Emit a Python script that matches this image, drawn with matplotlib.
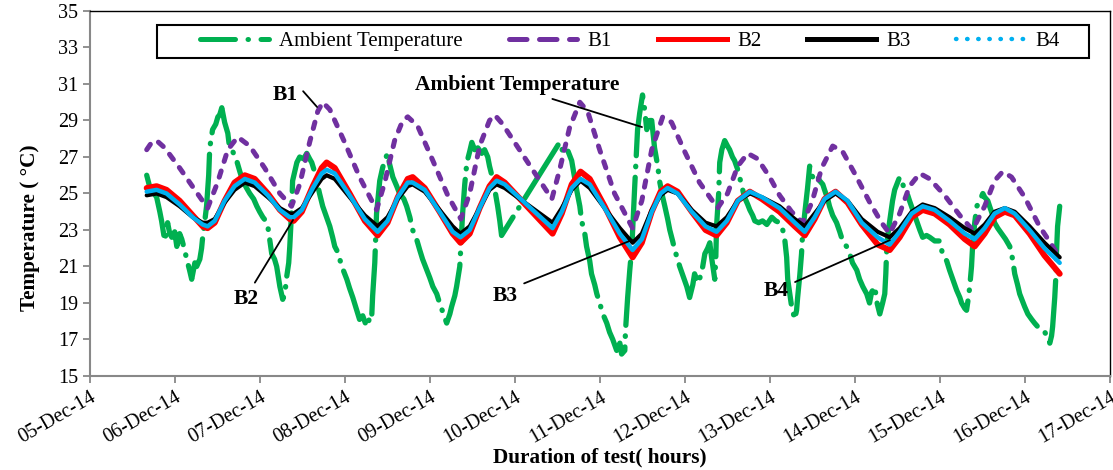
import matplotlib
matplotlib.use('Agg')
import matplotlib.pyplot as plt
import matplotlib.dates as mdates
from matplotlib.lines import Line2D
from matplotlib.patches import Rectangle
import pandas as pd

# test started 05-Dec-14 16:00, times are elapsed hours
start = pd.Timestamp('2014-12-05 16:00')

amb_h = [0.0, 0.8, 1.7, 2.8, 3.7, 4.2, 5.1, 5.9, 6.5, 7.1, 7.9, 8.5, 9.3, 9.9, 10.7, 11.3, 12.1, 12.7,
         13.6, 14.1, 15.0, 15.5, 15.8, 16.4, 16.9, 17.5, 17.8, 18.6, 19.5, 20.1, 20.6, 21.2, 22.0, 22.9,
         23.4, 24.3, 25.4, 26.3, 27.1, 28.2, 29.1, 30.2, 31.1, 31.9, 32.8, 33.6, 34.2, 34.7, 35.3, 36.1,
         36.7, 37.6, 38.4, 39.0, 39.5, 40.1, 40.4, 40.9, 41.2, 41.8, 42.4, 43.2, 44.3, 45.2, 46.0, 46.6,
         47.4, 48.0, 48.8, 49.7, 50.8, 51.7, 52.5, 53.1, 53.9, 54.5, 55.3, 56.5, 57.3, 58.2, 59.0, 60.1,
         61.0, 62.1, 63.0, 63.5, 63.8, 64.4, 64.9, 65.8, 66.6, 67.2, 68.0, 68.6, 69.5, 70.6, 71.4, 72.6,
         73.4, 74.3, 75.1, 76.2, 77.1, 77.9, 79.1, 79.9, 80.8, 81.9, 82.7, 83.6, 84.7, 85.6, 86.1, 87.0,
         87.5, 88.4, 88.9, 89.2, 89.8, 90.4, 91.2, 91.8, 92.6, 93.5, 94.6, 95.4, 96.3, 96.8, 97.7, 98.3,
         99.1, 99.7, 100.2, 116.6, 117.5, 118.6, 119.4, 120.0, 120.8, 121.4, 122.3, 122.8, 123.7, 124.2,
         125.1, 125.6, 126.5, 127.1, 127.9, 128.8, 129.9, 130.7, 131.6, 132.7, 133.6, 134.1, 135.0, 135.2,
         135.8, 136.4, 137.0, 137.8, 138.6, 139.2, 140.0, 140.6, 141.2, 142.0, 142.6, 143.4, 144.3, 144.8,
         145.7, 146.3, 147.1, 147.7, 148.5, 149.1, 149.9, 150.5, 151.6, 152.5, 153.3, 154.2, 154.7, 155.6,
         156.1, 157.0, 157.6, 158.4, 159.0, 159.5, 160.4, 160.7, 160.9, 161.5, 161.8, 162.4, 163.2, 164.0,
         164.6, 165.4, 166.0, 166.9, 167.4, 168.3, 168.8, 169.7, 170.3, 171.1, 171.7, 172.8, 173.9, 175.1,
         176.5, 177.6, 178.7, 179.6, 180.1, 180.7, 181.0, 181.6, 182.1, 183.0, 183.5, 183.8, 184.4, 184.9,
         185.2, 185.8, 186.6, 187.2, 187.8, 188.6, 189.5, 190.0, 190.9, 191.4, 192.3, 192.8, 193.7, 194.8,
         195.7, 196.5, 197.6, 198.5, 199.3, 200.5, 201.3, 202.2, 203.3, 204.1, 204.7, 205.6, 206.1, 207.0,
         207.8, 208.4, 208.7, 208.9, 209.2, 209.8, 210.6, 211.2, 212.0, 212.6, 213.5, 214.0, 214.9, 215.4,
         216.3, 217.4, 218.3, 219.1, 220.2, 221.1, 222.5, 223.9, 224.7, 225.9, 226.7, 227.6, 228.7, 229.6,
         230.1, 231.0, 231.5, 232.1, 232.4, 232.9, 233.2, 233.8, 234.4, 235.2, 236.1, 236.6, 237.5, 238.0,
         238.9, 239.4, 240.3, 241.4, 242.5, 243.7, 244.5, 245.1, 245.9, 246.5, 247.3, 247.9, 248.8, 249.9,
         250.7, 251.6, 252.7, 253.6, 254.4, 255.0, 255.5, 255.8, 256.1, 256.4, 256.7, 256.9, 257.2, 257.8]
amb_t = [26.0, 25.4, 25.1, 24.8, 24.0, 23.5, 22.4, 23.4, 22.8, 22.6, 22.9, 22.1, 22.8, 22.5, 21.9, 21.4, 20.8, 20.3,
         21.2, 21.0, 21.4, 22.0, 22.6, 23.5, 24.3, 26.0, 27.5, 28.5, 28.8, 29.2, 29.3, 29.7, 28.9, 28.3,
         27.5, 27.3, 26.8, 26.2, 25.7, 25.3, 25.0, 24.7, 24.3, 24.0, 23.7, 23.5, 23.2, 22.5, 21.7, 21.4,
         21.0, 19.9, 19.2, 19.5, 20.4, 21.2, 22.1, 24.0, 25.7, 26.2, 26.7, 27.0, 26.9, 27.2, 26.9, 26.7,
         26.2, 25.7, 25.0, 24.3, 23.7, 23.2, 22.6, 22.1, 21.8, 21.4, 20.9, 20.3, 19.8, 19.3, 18.8, 18.1,
         18.3, 17.7, 18.2, 18.1, 19.4, 21.2, 23.9, 25.7, 26.4, 26.8, 27.2, 26.6, 25.9, 25.4, 25.0, 24.7,
         24.3, 23.7, 23.0, 22.5, 21.9, 21.4, 20.8, 20.4, 19.9, 19.5, 19.0, 18.5, 17.9, 18.4, 18.8, 19.4,
         19.9, 21.0, 22.8, 23.9, 25.5, 26.7, 27.3, 27.8, 27.4, 27.5, 27.2, 27.4, 27.0, 26.5, 25.8, 25.2,
         24.3, 23.5, 22.7, 27.8, 27.3, 27.5, 27.1, 26.8, 25.9, 25.2, 24.3, 23.5, 22.8, 22.1,
         21.3, 20.6, 20.0, 19.5, 19.0, 18.4, 17.9, 17.4, 17.0, 16.4, 16.8, 16.2, 16.4, 17.5,
         19.3, 20.8, 22.1, 25.4, 28.5, 29.4, 30.4, 29.6, 28.5, 29.0, 29.0, 27.5, 26.5, 25.7,
         24.8, 24.3, 23.6, 23.0, 22.4, 21.9, 21.4, 21.0, 20.4, 19.9, 19.3, 20.0, 20.6, 20.1,
         20.3, 21.0, 21.7, 22.0, 22.3, 21.5, 20.3, 21.5, 23.2, 25.0, 26.7, 27.4, 27.9, 27.6,
         27.4, 27.0, 26.8, 26.3, 25.9, 25.2, 24.8, 24.4, 24.1, 23.8, 23.5, 23.4, 23.5, 23.3,
         23.7, 23.5, 23.4, 23.0, 22.6, 21.5, 20.3, 19.5, 18.8, 18.1, 18.6, 19.3, 20.5, 21.7,
         22.8, 23.9, 25.3, 26.5, 26.0, 25.7, 25.9, 25.7, 25.5, 25.2, 24.7, 24.3, 23.8, 23.4,
         22.9, 22.4, 22.1, 21.7, 21.2, 20.8, 20.3, 19.9, 19.5, 19.0, 19.6, 19.9, 19.1, 18.4,
         19.0, 19.5, 20.6, 21.7, 22.6, 23.5, 24.6, 25.2, 25.6, 25.9, 25.5, 25.2, 24.9, 24.6,
         24.1, 23.5, 23.0, 22.6, 22.7, 22.6, 22.4, 22.4, 21.7, 21.3, 20.8, 20.3, 19.7, 19.3,
         19.0, 18.7, 18.6, 19.4, 19.9, 21.0, 22.1, 23.4, 24.3, 24.6, 25.0, 24.8, 24.6, 24.3,
         23.8, 23.4, 23.1, 22.8, 22.5, 22.1, 21.4, 20.6, 20.0, 19.5, 19.1, 18.8, 18.4, 18.1,
         17.9, 17.7, 17.6, 17.4, 17.1, 16.8, 17.2, 17.7, 18.5, 19.3, 20.4, 21.8, 23.2, 24.3]

b1_h = [0.0, 1.4, 2.8, 5.1, 9.3, 13.6, 17.2, 20.0, 22.9, 25.7, 29.1, 33.3, 37.6, 40.9, 43.2, 46.0,
        48.3, 49.7, 51.7, 55.9, 60.1, 64.9, 67.2, 70.0, 72.3, 73.7, 76.5, 80.8, 85.0, 88.7, 91.2, 94.0,
        96.8, 98.3, 100.5, 114.4, 116.6, 119.4, 122.3, 124.5, 127.9, 132.1, 137.2, 139.8, 142.6, 145.7,
        148.2, 151.9, 156.1, 161.2, 164.0, 166.9, 169.7, 172.5, 175.9, 178.7, 182.1, 185.2, 187.8, 190.6,
        193.7, 196.5, 199.9, 204.2, 207.5, 209.8, 212.6, 215.4, 218.3, 221.1, 225.3, 229.6, 233.2, 236.6,
        239.4, 241.7, 244.2, 247.9, 252.1, 255.5, 257.8]
b1_t = [27.4, 27.8, 27.9, 27.5, 26.4, 25.2, 24.2, 25.6, 27.4, 28.1, 27.6, 26.4, 25.0, 24.3, 25.5, 27.8,
        29.5, 30.0, 29.6, 27.8, 25.9, 24.1, 25.6, 27.9, 29.0, 29.2, 28.7, 26.8, 24.9, 23.6, 25.0, 27.6,
        29.0, 29.3, 28.8, 24.7, 26.3, 28.6, 30.0, 29.5, 27.4, 25.0, 23.1, 24.6, 27.4, 29.2,
        28.9, 27.3, 25.6, 24.2, 25.0, 26.5, 27.2, 26.9, 25.9, 24.9, 24.0, 23.4, 24.5, 26.4,
        27.6, 27.3, 26.1, 24.5, 23.4, 22.8, 23.9, 25.4, 26.1, 25.8, 24.9, 23.8, 23.0, 24.3,
        25.7, 26.2, 25.9, 24.8, 23.2, 22.2, 21.5]

b_h = [0.0, 2.8, 5.6, 9.3, 13.0, 15.8, 17.2, 19.2, 22.0, 24.8, 27.7, 30.5, 34.2, 37.6, 40.4, 41.5,
       43.8, 46.9, 49.4, 50.8, 53.1, 57.3, 61.6, 65.2, 68.0, 70.9, 73.7, 75.1, 78.5, 82.7, 86.4, 88.6,
       91.2, 94.0, 96.8, 98.8, 101.1, 114.6, 117.2, 120.0, 122.5, 125.1, 129.3, 133.6, 137.2, 139.8,
       142.6, 145.1, 147.1, 149.9, 153.9, 157.8, 160.9, 163.8, 166.9, 170.3, 173.7, 178.7, 183.0, 185.8,
       188.6, 191.4, 194.5, 197.9, 201.9, 206.4, 209.8, 212.6, 216.0, 219.1, 222.5, 226.7, 231.0, 233.8,
       236.6, 239.4, 242.3, 245.1, 249.3, 253.5, 257.8]
b2_t = [25.3, 25.4, 25.2, 24.6, 23.8, 23.2, 23.1, 23.4, 24.6, 25.6, 26.0, 25.8, 25.0, 24.1, 23.6, 23.5,
        24.0, 25.4, 26.4, 26.7, 26.4, 25.0, 23.5, 22.7, 23.4, 24.8, 25.8, 25.9, 25.3, 24.0, 22.8, 22.3,
        22.8, 24.2, 25.4, 25.9, 25.6, 22.8, 23.9, 25.5, 26.2, 25.8, 24.3, 22.6, 21.5, 22.3,
        24.0, 25.1, 25.4, 25.1, 24.0, 23.0, 22.7, 23.4, 24.6, 25.1, 24.7, 24.0, 23.2, 22.7,
        23.6, 24.7, 25.1, 24.5, 23.3, 22.2, 21.9, 22.6, 23.7, 24.1, 23.9, 23.3, 22.5, 22.1,
        22.8, 23.7, 24.0, 23.8, 22.8, 21.6, 20.6]
b3_t = [24.9, 25.0, 24.8, 24.3, 23.7, 23.4, 23.4, 23.6, 24.5, 25.2, 25.6, 25.4, 24.8, 24.2, 23.9, 23.9,
        24.2, 25.1, 25.8, 26.0, 25.8, 24.8, 23.8, 23.2, 23.7, 24.7, 25.4, 25.5, 25.1, 24.1, 23.2, 22.8,
        23.2, 24.2, 25.2, 25.5, 25.3, 23.4, 24.2, 25.2, 25.7, 25.3, 24.2, 23.1, 22.3, 22.8,
        24.1, 24.9, 25.2, 25.0, 24.1, 23.4, 23.2, 23.7, 24.6, 25.0, 24.8, 24.3, 23.6, 23.2,
        23.9, 24.6, 25.0, 24.6, 23.6, 22.9, 22.6, 23.1, 24.0, 24.4, 24.2, 23.7, 23.1, 22.8,
        23.3, 24.0, 24.2, 24.0, 23.2, 22.3, 21.5]
b4_t = [25.1, 25.2, 25.0, 24.4, 23.7, 23.3, 23.2, 23.5, 24.6, 25.4, 25.8, 25.6, 24.9, 24.1, 23.7, 23.7,
        24.1, 25.3, 26.1, 26.3, 26.1, 24.9, 23.6, 22.9, 23.5, 24.8, 25.6, 25.6, 25.2, 24.0, 22.9, 22.6,
        23.0, 24.2, 25.3, 25.7, 25.5, 23.1, 24.0, 25.3, 25.8, 25.5, 24.2, 22.8, 21.9, 22.5,
        24.0, 25.0, 25.3, 25.0, 24.0, 23.2, 22.9, 23.5, 24.6, 25.1, 24.8, 24.2, 23.4, 22.9,
        23.7, 24.7, 25.1, 24.6, 23.4, 22.6, 22.2, 22.9, 23.9, 24.3, 24.1, 23.5, 22.8, 22.5,
        23.1, 23.9, 24.2, 23.9, 23.0, 22.0, 21.2]

day_ticks = pd.date_range('2014-12-05', '2014-12-17', freq='D')


def when(hours):
    return start + pd.to_timedelta(hours, unit='h')


def day(d):
    return mdates.date2num(pd.Timestamp('2014-12-05')) + d


plt.rcParams['font.family'] = ['Liberation Serif', 'DejaVu Serif']

fig = plt.figure(figsize=(11.13, 4.70), dpi=100)
ax = fig.add_axes([0.0809, 0.2, 0.9164, 0.7766])

ax.plot(when(amb_h), amb_t, color='#00B050', lw=3.8, linestyle=(0, (12, 2, 0.1, 2)),
        dash_capstyle='round')
ax.plot(when(b1_h), b1_t, color='#7030A0', lw=3.6, linestyle=(0, (1.3, 2.0)), dash_capstyle='round')
ax.plot(when(b_h), b2_t, color='#FF0000', lw=4.3, solid_capstyle='round')
ax.plot(when(b_h), b3_t, color='#000000', lw=3.0, solid_capstyle='round')
ax.plot(when(b_h), b4_t, color='#00B0F0', lw=3.2, solid_capstyle='round')

ax.set_xlim(day_ticks[0], day_ticks[-1])
ax.set_ylim(15, 35)
ax.set_yticks(range(15, 36, 2))
ax.set_xticks(day_ticks)
ax.xaxis.set_major_formatter(mdates.DateFormatter('%d-%b-%y'))
ax.tick_params(axis='both', labelsize=14.5, color='#888888', length=5, width=1.3)
for lab in ax.get_xticklabels():
    lab.set_rotation(30)
    lab.set_ha('right')
    lab.set_rotation_mode('anchor')

for s in ['left', 'bottom']:
    ax.spines[s].set_color('#888888')
    ax.spines[s].set_linewidth(1.5)
for s in ['top', 'right']:
    ax.spines[s].set_color('black')
    ax.spines[s].set_linewidth(1.0)

ax.set_ylabel('Temperature ( °C)', fontsize=15.3, fontweight='bold')
ax.yaxis.set_label_coords(-0.049, 0.405)
ax.set_xlabel('Duration of test( hours)', fontsize=15.3, fontweight='bold')
ax.xaxis.set_label_coords(0.5, -0.195)

# legend box
ax.add_patch(Rectangle((0.0657, 0.871), 0.914, 0.0904, transform=ax.transAxes,
                       facecolor='white', edgecolor='black', lw=1.5, zorder=4))
handles = [
    Line2D([], [], color='#00B050', lw=3.6, linestyle=(0, (7, 2.5, 0.1, 2.5)), dash_capstyle='round'),
    Line2D([], [], color='#7030A0', lw=3.6, linestyle=(0, (3.5, 2.5)), dash_capstyle='round'),
    Line2D([], [], color='#FF0000', lw=3.6),
    Line2D([], [], color='#000000', lw=3.6),
    Line2D([], [], color='#00B0F0', lw=3.2, linestyle=(0, (0.1, 2.4)), dash_capstyle='round'),
]
labels = ['Ambient Temperature', 'B1', 'B2', 'B3', 'B4']
leg = ax.legend(handles, labels, ncol=5, loc='center', bbox_to_anchor=(0.5293, 0.916),
                fontsize=15, handlelength=3.3, handletextpad=0.5, columnspacing=2.2,
                frameon=False, borderaxespad=0)
leg.set_zorder(5)

notes = [
    ('B1', (2.294, 30.40), (2.671, 29.74), (1.0, 1.0)),
    ('Ambient Temperature', (5.024, 30.95), (6.494, 28.64), (0.61, 0.0)),
    ('B2', (1.835, 19.22), (2.388, 23.55), (0.7, 1.0)),
    ('B3', (4.882, 19.38), (6.376, 22.45), (1.0, 1.0)),
    ('B4', (8.07, 19.66), (9.412, 22.45), (1.0, 0.8)),
]
for txt, pos, tip, rel in notes:
    ax.annotate(txt, xy=(day(tip[0]), tip[1]), xytext=(day(pos[0]), pos[1]),
                ha='center', va='center', fontsize=15.5, fontweight='bold',
                arrowprops=dict(arrowstyle='-', lw=1.3, color='black', relpos=rel,
                                shrinkA=3, shrinkB=0))

fig.savefig('out.png', dpi=100)
